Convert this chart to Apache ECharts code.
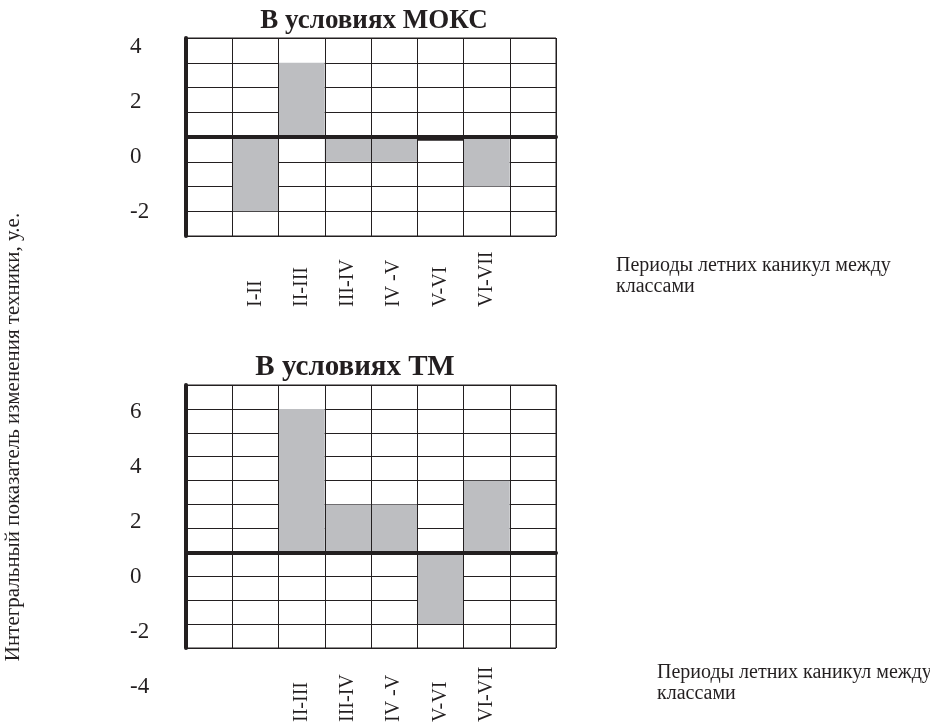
<!DOCTYPE html>
<html>
<head>
<meta charset="utf-8">
<script src="https://cdn.jsdelivr.net/npm/echarts@6/dist/echarts.min.js"></script>
<style>
  html, body { margin: 0; padding: 0; background: #fff; }
  #chart { width: 930px; height: 725px; }
</style>
</head>
<body>
<div id="chart"></div>
<script>
// данные --------------------------------------------------
const periodsMoks = ['', 'I-II', 'II-III', 'III-IV', 'IV -V', 'V-VI', 'VI-VII', ''];
const periodsTm = ['', '', 'II-III', 'III-IV', 'IV -V', 'V-VI', 'VI-VII', ''];
const valuesMoks = [null, -3, 3, -1, -1, -0.15, -2, null];
const valuesTm = [null, null, 6, 2, 2, -3, 3, null];
const ticksMoks = [-2, 0, 2, 4];
const ticksTm = [-4, -2, 0, 2, 4, 6];
const gridMoks = [-4, 4]; // диапазон сетки (клетки по 1)
const gridTm = [-4, 7];

const ink = '#231f20';
const barGray = '#bdbec1';
const serif = '"Liberation Serif", "DejaVu Serif", serif';

const chart = echarts.init(document.getElementById('chart'));

// одна панель: сетка со столбиками + отдельная ось с подписями
function panelAxes(gridIdx, cats, range, labelMargin) {
  return {
    x: {
      gridIndex: gridIdx,
      type: 'category',
      data: cats,
      z: 5,
      axisLine: { show: true, onZero: true, lineStyle: { color: ink, width: 4 } },
      axisTick: { show: false },
      splitLine: { show: true, interval: 0, lineStyle: { color: ink, width: 1 } },
      axisLabel: {
        interval: 0,
        rotate: 90,
        align: 'left',
        verticalAlign: 'middle',
        margin: labelMargin,
        color: ink,
        fontFamily: serif,
        fontSize: 20
      }
    },
    y: {
      gridIndex: gridIdx,
      type: 'value',
      min: range[0],
      max: range[1],
      interval: 1,
      axisLine: { show: true, onZero: false, lineStyle: { color: ink, width: 4 } },
      axisTick: { show: false },
      axisLabel: { show: false },
      splitLine: { show: true, lineStyle: { color: ink, width: 1 } }
    }
  };
}

const moks = panelAxes(0, periodsMoks, gridMoks, 71);
const tm = panelAxes(1, periodsTm, gridTm, 74);

function tickAxis(gridIdx, ticks) {
  return {
    gridIndex: gridIdx,
    type: 'value',
    min: ticks[0],
    max: ticks[ticks.length - 1],
    interval: 2,
    axisLine: { show: false },
    axisTick: { show: false },
    splitLine: { show: false },
    axisLabel: {
      align: 'left',
      margin: 56,
      color: ink,
      fontFamily: serif,
      fontSize: 23
    }
  };
}

function hiddenX(gridIdx) {
  return { gridIndex: gridIdx, type: 'category', data: [''], show: false };
}

function barColor(p) {
  // почти нулевое значение на рисунке выглядит как чёрная полоска
  return Math.abs(p.value) < 0.5 ? ink : barGray;
}

const option = {
  animation: false,
  backgroundColor: '#fff',
  grid: [
    { left: 186, top: 38, width: 370, height: 198, show: true, borderColor: ink, borderWidth: 1 },
    { left: 186, top: 385, width: 370, height: 266, show: true, borderColor: ink, borderWidth: 1 },
    { left: 186, top: 47, width: 370, height: 165 },
    { left: 186, top: 412, width: 370, height: 275 }
  ],
  xAxis: [moks.x, tm.x, hiddenX(2), hiddenX(3)],
  yAxis: [moks.y, tm.y, tickAxis(2, ticksMoks), tickAxis(3, ticksTm)],
  series: [
    {
      type: 'bar',
      xAxisIndex: 0,
      yAxisIndex: 0,
      data: valuesMoks,
      barCategoryGap: '0%',
      itemStyle: { color: barColor }
    },
    {
      type: 'bar',
      xAxisIndex: 1,
      yAxisIndex: 1,
      data: valuesTm,
      barCategoryGap: '0%',
      itemStyle: { color: barColor }
    }
  ],
  graphic: [
    {
      type: 'text', x: 374, y: 21,
      style: { text: 'В условиях МОКС', fill: ink, font: 'bold 27px ' + serif, align: 'center', verticalAlign: 'middle' }
    },
    {
      type: 'text', x: 355, y: 368,
      style: { text: 'В условиях ТМ', fill: ink, font: 'bold 29px ' + serif, align: 'center', verticalAlign: 'middle' }
    },
    {
      type: 'text', x: 616, y: 255,
      style: { text: 'Периоды летних каникул между\nклассами', fill: ink, font: '20px ' + serif, lineHeight: 21, align: 'left', verticalAlign: 'top' }
    },
    {
      type: 'text', x: 657, y: 662,
      style: { text: 'Периоды летних каникул между\nклассами', fill: ink, font: '20px ' + serif, lineHeight: 21, align: 'left', verticalAlign: 'top' }
    },
    {
      type: 'text', x: 13, y: 437, rotation: Math.PI / 2,
      style: { text: 'Интегральный показатель изменения техники, у.е.', fill: ink, font: '21px ' + serif, align: 'center', verticalAlign: 'middle' }
    }
  ]
};

chart.setOption(option);
</script>
</body>
</html>
